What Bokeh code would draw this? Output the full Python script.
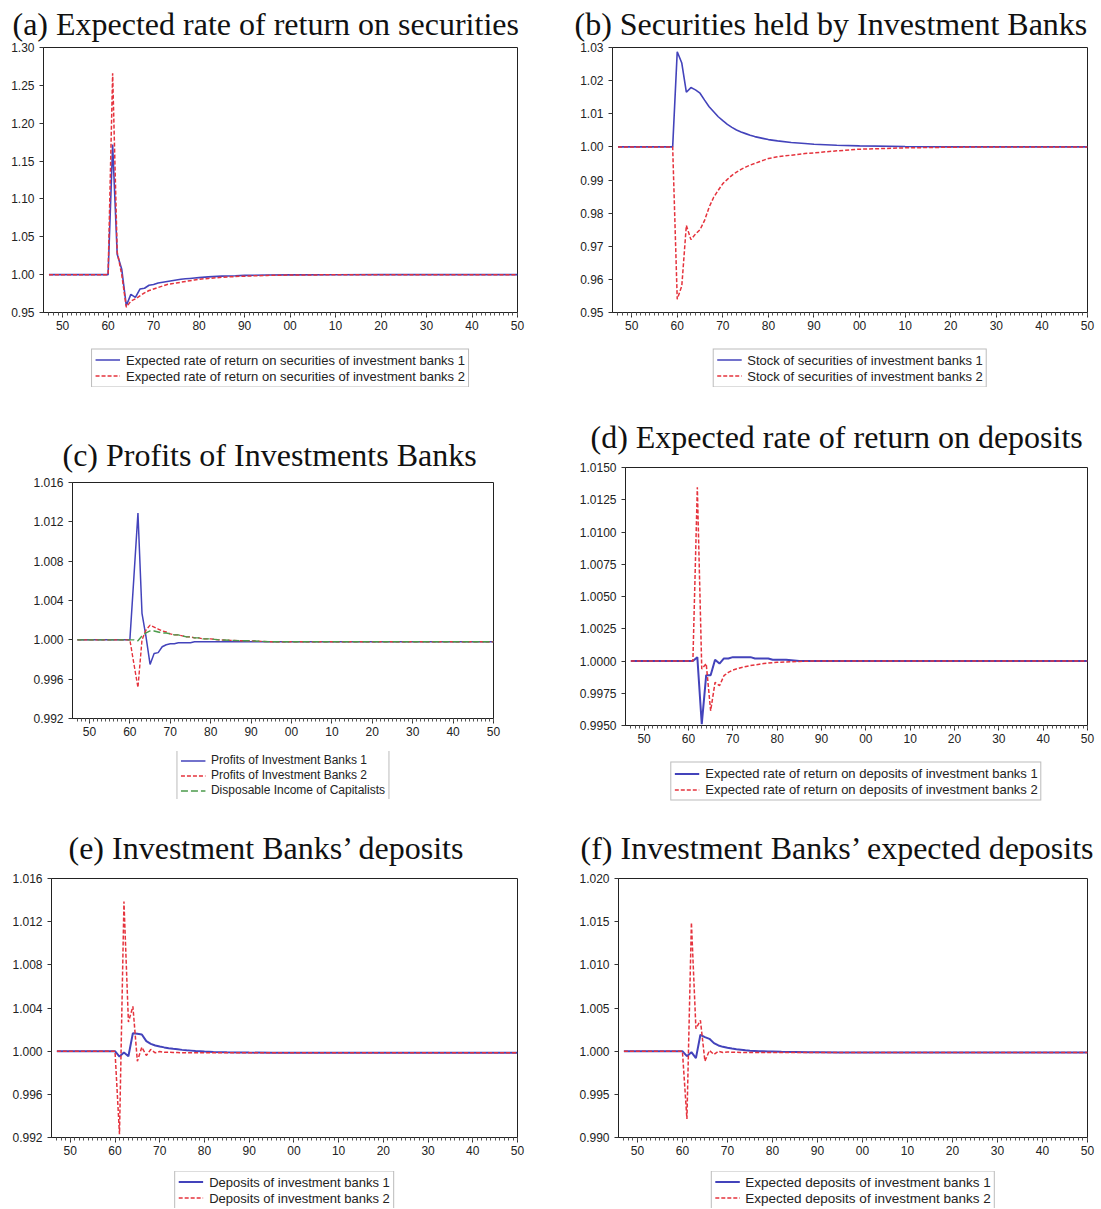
from bokeh.plotting import figure
from bokeh.layouts import column, row
from bokeh.models import Range1d, FixedTicker, PrintfTickFormatter, Legend, LegendItem
from bokeh.embed import file_html
from bokeh.resources import INLINE

# ---------------- data ----------------
YEARS = [1947, 1958, 1959, 1960, 1961, 1962, 1963, 1964, 1965, 1966, 1967, 1968,
         1969, 1970, 1971, 1972, 1973, 1974, 1975, 1976, 1977, 1978, 1979, 1980,
         1982, 1985, 1988, 1990, 1995, 2000, 2010, 2020, 2030, 2040, 2050]

XTICKS = [1950, 1960, 1970, 1980, 1990, 2000, 2010, 2020, 2030, 2040, 2050]
XTICK_LABELS = ["50", "60", "70", "80", "90", "00", "10", "20", "30", "40", "50"]
XMINOR = list(range(1947, 2051))

# (a) expected rate of return on securities
RET_SEC_1 = [1.000, 1.000, 1.000, 1.000, 1.172, 1.027, 1.007, 0.959, 0.974, 0.970, 0.981, 0.982,
             0.986, 0.987, 0.989, 0.990, 0.991, 0.992, 0.993, 0.994, 0.9945, 0.995, 0.9955, 0.996,
             0.997, 0.998, 0.9985, 0.999, 0.9995, 0.9997, 0.9999, 1.000, 1.000, 1.000, 1.000]
RET_SEC_2 = [1.000, 1.000, 1.000, 1.000, 1.266, 1.030, 1.000, 0.957, 0.965, 0.968, 0.972, 0.976,
             0.979, 0.981, 0.983, 0.985, 0.987, 0.988, 0.989, 0.990, 0.991, 0.992, 0.993, 0.994,
             0.995, 0.9965, 0.9975, 0.998, 0.999, 0.9995, 0.9998, 1.000, 1.000, 1.000, 1.000]

# (b) securities held by investment banks
SEC_1 = [1.000, 1.000, 1.000, 1.0287, 1.0253, 1.0165, 1.0179, 1.0172, 1.0162, 1.0141, 1.0121, 1.0106,
         1.0091, 1.0079, 1.0068, 1.0059, 1.0051, 1.0045, 1.0040, 1.0035, 1.0031, 1.0028, 1.0025, 1.0022,
         1.0018, 1.0013, 1.0010, 1.0008, 1.0005, 1.0003, 1.0001, 1.000, 1.000, 1.000, 1.000]
SEC_2 = [1.000, 1.000, 1.000, 0.9540, 0.9580, 0.9763, 0.9720, 0.9737, 0.9750, 0.9778, 0.9818, 0.9848,
         0.9869, 0.9889, 0.9902, 0.9914, 0.9924, 0.9932, 0.9939, 0.9945, 0.9950, 0.9955, 0.9960, 0.9965,
         0.9970, 0.9975, 0.9980, 0.9982, 0.9988, 0.9993, 0.9997, 0.9999, 1.000, 1.000, 1.000]

# (c) profits of investment banks
PROF_1 = [1.000, 1.000, 1.000, 1.000, 1.0064, 1.0129, 1.0027, 1.0003, 0.9975, 0.9986, 0.9987, 0.9993,
          0.9995, 0.9996, 0.9996, 0.9997, 0.9997, 0.9997, 0.9997, 0.9998, 0.9998, 0.9998, 0.9998, 0.9998,
          0.9998, 0.9998, 0.9998, 0.9998, 0.9998, 0.9998, 0.9998, 0.9998, 0.9998, 0.9998, 0.9998]
PROF_2 = [1.000, 1.000, 1.000, 1.000, 0.99755, 0.99515, 1.0000, 1.0010, 1.0015, 1.0013, 1.0011, 1.0009,
          1.0008, 1.0006, 1.0005, 1.0005, 1.0004, 1.0003, 1.0003, 1.0002, 1.0002, 1.0001, 1.0001, 1.0001,
          1.0000, 0.99995, 0.9999, 0.9999, 0.9998, 0.9998, 0.9998, 0.9998, 0.9998, 0.9998, 0.9998]
DISP_CAP = [1.000, 1.000, 1.000, 1.000, 1.000, 0.9999, 1.0004, 1.0007, 1.0009, 1.0009, 1.0008, 1.0007,
            1.0007, 1.0006, 1.0005, 1.0005, 1.0004, 1.0003, 1.0003, 1.0002, 1.0002, 1.0001, 1.0001, 1.0001,
            1.0000, 0.99995, 0.9999, 0.9999, 0.9998, 0.9998, 0.9998, 0.9998, 0.9998, 0.9998, 0.9998]

# (d) expected rate of return on deposits
RET_DEP_1 = [1.000, 1.000, 1.000, 1.000, 1.000, 1.0003, 0.9951, 0.9989, 0.9989, 1.0001, 0.9998, 1.0002,
             1.0002, 1.0003, 1.0003, 1.0003, 1.0003, 1.0003, 1.0002, 1.0002, 1.0002, 1.0002, 1.0001, 1.0001,
             1.0001, 1.0000, 1.0000, 1.0000, 1.0000, 1.0000, 1.0000, 1.0000, 1.0000, 1.0000, 1.0000]
RET_DEP_2 = [1.000, 1.000, 1.000, 1.000, 1.000, 1.01346, 0.99938, 0.9998, 0.99614, 0.99834, 0.99808, 0.99886,
             0.99912, 0.9993, 0.9994, 0.9995, 0.99958, 0.99965, 0.9997, 0.99975, 0.9998, 0.99984, 0.99987, 0.9999,
             0.99993, 0.99997, 1.0000, 1.0000, 1.0000, 1.0000, 1.0000, 1.0000, 1.0000, 1.0000, 1.0000]

# (e) investment banks' deposits
DEP_1 = [1.000, 1.000, 1.000, 1.000, 0.9995, 0.99988, 0.99953, 1.00167, 1.00161, 1.00155, 1.00093, 1.00068,
         1.00053, 1.00043, 1.00035, 1.00028, 1.00022, 1.00017, 1.00012, 1.00008, 1.00005, 1.00002, 1.0000, 0.99997,
         0.99993, 0.9999, 0.99988, 0.99987, 0.99985, 0.99985, 0.99985, 0.99985, 0.99985, 0.99985, 0.99985]
DEP_2 = [1.000, 1.000, 1.000, 1.000, 0.99231, 1.01386, 1.0027, 1.00415, 0.99907, 1.00037, 0.9996, 1.00016,
         0.99985, 0.99997, 0.9999, 0.9999, 0.99988, 0.99987, 0.99986, 0.99985, 0.99985, 0.99985, 0.99985, 0.99985,
         0.99985, 0.99985, 0.99985, 0.99985, 0.99985, 0.99985, 0.99985, 0.99985, 0.99985, 0.99985, 0.99985]

# (f) investment banks' expected deposits
EXP_DEP_1 = [1.000, 1.000, 1.000, 1.000, 0.99942, 0.99988, 0.99919, 1.0019, 1.00163, 1.00143, 1.00093, 1.00066,
             1.0005, 1.00039, 1.0003, 1.00022, 1.00016, 1.0001, 1.00006, 1.00003, 1.0000, 0.99998, 0.99996, 0.99995,
             0.99992, 0.9999, 0.99988, 0.99987, 0.99985, 0.99985, 0.99985, 0.99985, 0.99985, 0.99985, 0.99985]
EXP_DEP_2 = [1.000, 1.000, 1.000, 1.000, 0.99214, 1.0149, 1.0026, 1.00356, 0.99884, 1.00008, 0.99961, 1.0000,
             0.99985, 0.9999, 0.99988, 0.99987, 0.99986, 0.99985, 0.99985, 0.99985, 0.99985, 0.99985, 0.99985, 0.99985,
             0.99985, 0.99985, 0.99985, 0.99985, 0.99985, 0.99985, 0.99985, 0.99985, 0.99985, 0.99985, 0.99985]

YTICKS_A = [0.95, 1.00, 1.05, 1.10, 1.15, 1.20, 1.25, 1.30]
YTICKS_B = [0.95, 0.96, 0.97, 0.98, 0.99, 1.00, 1.01, 1.02, 1.03]
YTICKS_C = [0.992, 0.996, 1.000, 1.004, 1.008, 1.012, 1.016]
YTICKS_D = [0.9950, 0.9975, 1.0000, 1.0025, 1.0050, 1.0075, 1.0100, 1.0125, 1.0150]
YTICKS_E = [0.992, 0.996, 1.000, 1.004, 1.008, 1.012, 1.016]
YTICKS_F = [0.990, 0.995, 1.000, 1.005, 1.010, 1.015, 1.020]

TITLES = ["(a) Expected rate of return on securities",
          "(b) Securities held by Investment Banks",
          "(c) Profits of Investments Banks",
          "(d) Expected rate of return on deposits",
          "(e) Investment Banks\u2019 deposits",
          "(f) Investment Banks\u2019 expected deposits"]

LABELS_A = ["Expected rate of return on securities of investment banks 1",
            "Expected rate of return on securities of investment banks 2"]
LABELS_B = ["Stock of securities of investment banks 1",
            "Stock of securities of investment banks 2"]
LABELS_C = ["Profits of Investment Banks 1", "Profits of Investment Banks 2",
            "Disposable Income of Capitalists"]
LABELS_D = ["Expected rate of return on deposits of investment banks 1",
            "Expected rate of return on deposits of investment banks 2"]
LABELS_E = ["Deposits of investment banks 1", "Deposits of investment banks 2"]
LABELS_F = ["Expected deposits of investment banks 1", "Expected deposits of investment banks 2"]

# ---------------- style ----------------
BLUE = "#4343bb"
RED = "#e5333d"
GREEN = "#4b9b4b"
XLO, XHI = 1945.8, 2050
TICK_FONT = "Liberation Sans"


def panel(title, yr, yticks, yfmt, series, labels, left, right, top, fw, fh, bottom,
          title_valign, title_standoff, title_offset,
          leg_top, leg_fh, leg_bottom, leg_font, leg_row):
    width = left + fw + right
    p = figure(width=width, height=top + fh + bottom,
               output_backend="svg", toolbar_location=None,
               x_range=Range1d(XLO, XHI), y_range=Range1d(*yr),
               min_border_left=left, min_border_right=right,
               min_border_top=top, min_border_bottom=bottom)
    p.title.text = title
    p.title.align = "left"
    p.title.vertical_align = title_valign
    p.title.text_font = "Liberation Serif"
    p.title.text_font_size = "32px"
    p.title.text_font_style = "normal"
    p.title.text_color = "#111111"
    p.title.standoff = title_standoff
    p.title.offset = title_offset
    p.xgrid.visible = False
    p.ygrid.visible = False
    p.outline_line_color = "#222222"
    p.outline_line_width = 1
    p.outline_line_alpha = 1

    xa = p.xaxis[0]
    xa.ticker = FixedTicker(ticks=XTICKS, minor_ticks=XMINOR)
    xa.major_label_overrides = {t: l for t, l in zip(XTICKS, XTICK_LABELS)}
    xa.major_tick_in = 0
    xa.major_tick_out = 5
    xa.minor_tick_in = 0
    xa.minor_tick_out = 3
    xa.major_label_standoff = 3

    ya = p.yaxis[0]
    ya.ticker = FixedTicker(ticks=yticks, minor_ticks=[])
    ya.formatter = PrintfTickFormatter(format=yfmt)
    ya.major_tick_in = 0
    ya.major_tick_out = 4
    ya.minor_tick_in = 0
    ya.minor_tick_out = 0
    ya.major_label_standoff = 5

    for ax in (xa, ya):
        ax.axis_line_color = "#222222"
        ax.major_tick_line_color = "#333333"
        ax.minor_tick_line_color = "#555555"
        ax.major_label_text_font = TICK_FONT
        ax.major_label_text_font_size = "12px"
        ax.major_label_text_color = "#222222"

    for ys, color, dash, lw in series:
        p.line(YEARS, ys, line_color=color, line_width=lw, line_dash=dash)

    # legend strip under the plot: same series, drawn outside its visible range
    lf = figure(width=width, height=leg_top + leg_fh + leg_bottom,
                output_backend="svg", toolbar_location=None,
                x_range=Range1d(0, 1), y_range=Range1d(0, 1),
                x_axis_type=None, y_axis_type=None,
                min_border_left=left, min_border_right=right,
                min_border_top=leg_top, min_border_bottom=leg_bottom)
    lf.outline_line_color = None
    lf.xgrid.visible = False
    lf.ygrid.visible = False
    items = []
    for (ys, color, dash, lw), lab in zip(series, labels):
        r = lf.line(YEARS, ys, line_color=color, line_width=lw, line_dash=dash)
        items.append(LegendItem(label=lab, renderers=[r]))
    leg = Legend(items=items, location="center", orientation="vertical",
                 border_line_color="#7a7a7a", border_line_width=1,
                 background_fill_color="white", background_fill_alpha=1,
                 padding=3, spacing=1, margin=0,
                 label_text_font=TICK_FONT, label_text_font_size=leg_font,
                 label_text_color="#222222", label_height=leg_row, glyph_height=leg_row,
                 glyph_width=25, label_standoff=6)
    lf.add_layout(leg)
    return column(p, lf, spacing=0)


pa = panel(TITLES[0], (0.95, 1.30), YTICKS_A, "%.2f",
           [(RET_SEC_1, BLUE, "solid", 1.6), (RET_SEC_2, RED, "4 2", 1.5)], LABELS_A,
           left=43, right=43, top=47, fw=474, fh=265, bottom=24,
           title_valign="top", title_standoff=8, title_offset=-31,
           leg_top=12, leg_fh=39, leg_bottom=8, leg_font="13px", leg_row=14)
pb = panel(TITLES[1], (0.95, 1.03), YTICKS_B, "%.2f",
           [(SEC_1, BLUE, "solid", 1.6), (SEC_2, RED, "4 2", 1.5)], LABELS_B,
           left=52, right=13, top=47, fw=475, fh=265, bottom=24,
           title_valign="top", title_standoff=8, title_offset=-38,
           leg_top=12, leg_fh=39, leg_bottom=8, leg_font="13px", leg_row=14)
pc = panel(TITLES[2], (0.992, 1.016), YTICKS_C, "%.3f",
           [(PROF_1, BLUE, "solid", 1.5), (PROF_2, RED, "4 2", 1.4), (DISP_CAP, GREEN, "7 3", 1.4)],
           LABELS_C,
           left=72, right=67, top=87, fw=421, fh=236, bottom=24,
           title_valign="bottom", title_standoff=19, title_offset=-10,
           leg_top=9, leg_fh=48, leg_bottom=9, leg_font="12px", leg_row=13)
pd_ = panel(TITLES[3], (0.995, 1.015), YTICKS_D, "%.4f",
            [(RET_DEP_1, BLUE, "solid", 2.0), (RET_DEP_2, RED, "4 2", 1.5)], LABELS_D,
            left=65, right=13, top=72, fw=462, fh=258, bottom=24,
            title_valign="bottom", title_standoff=25, title_offset=-35,
            leg_top=12, leg_fh=40, leg_bottom=7, leg_font="13px", leg_row=14)
pe = panel(TITLES[4], (0.992, 1.016), YTICKS_E, "%.3f",
           [(DEP_1, BLUE, "solid", 2.0), (DEP_2, RED, "4 2", 1.5)], LABELS_E,
           left=51, right=43, top=70, fw=466, fh=259, bottom=24,
           title_valign="bottom", title_standoff=25, title_offset=17,
           leg_top=10, leg_fh=37, leg_bottom=0, leg_font="13px", leg_row=14)
pf = panel(TITLES[5], (0.990, 1.020), YTICKS_F, "%.3f",
           [(EXP_DEP_1, BLUE, "solid", 2.0), (EXP_DEP_2, RED, "4 2", 1.5)], LABELS_F,
           left=58, right=13, top=70, fw=469, fh=259, bottom=24,
           title_valign="bottom", title_standoff=25, title_offset=-38,
           leg_top=10, leg_fh=37, leg_bottom=0, leg_font="13.5px", leg_row=14)

layout = column(row(pa, pb, spacing=0), row(pc, pd_, spacing=0), row(pe, pf, spacing=0), spacing=0)

open("out.html", "w").write(file_html(layout, INLINE))
